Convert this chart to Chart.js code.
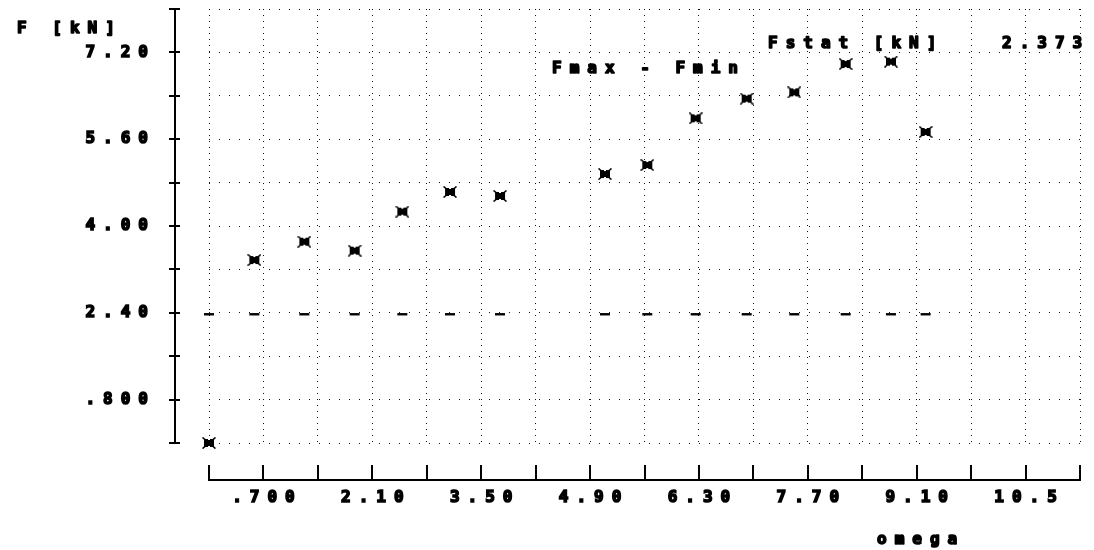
<!DOCTYPE html>
<html>
<head>
<meta charset="utf-8">
<script src="https://cdn.jsdelivr.net/npm/chart.js@4/dist/chart.umd.min.js"></script>
<style>
  html, body { margin: 0; padding: 0; background: #fff; }
  #wrap { position: relative; width: 1094px; height: 550px; }
</style>
</head>
<body>
<div id="wrap"><canvas id="c"></canvas></div>
<script>
// Peak-to-peak force (Fmax - Fmin) against excitation frequency omega
const omega  = [0, 0.583, 1.226, 1.873, 2.486, 3.099, 3.742, 5.092, 5.636, 6.258, 6.914, 7.526, 8.187, 8.769, 9.215];
const fRange = [0, 3.373, 3.710, 3.545, 4.264, 4.627, 4.553, 4.958, 5.124, 5.985, 6.347, 6.464, 6.986, 7.029, 5.733];
// Static force level, marked at every measured frequency
const fStat = 2.373;

const xTickLabels = ['', '.700', '', '2.10', '', '3.50', '', '4.90', '', '6.30', '', '7.70', '', '9.10', '', '10.5', ''];
const yTickLabels = ['', '.800', '', '2.40', '', '4.00', '', '5.60', '', '7.20', ''];
const xStep = 0.7;
const yStep = 0.8;

const FONT_FAMILY = '"DejaVu Sans Mono", "Liberation Mono", monospace';
const FONT_SIZE = 16;
const SPACING = 8;
const INK = 1.6; // extra stroke to thicken the plotter lettering

// Filled "crab" marker used for the measured points
function makeMarker() {
  const c = document.createElement('canvas');
  c.width = 14; c.height = 12;
  const g = c.getContext('2d');
  g.fillStyle = '#000';
  g.fillRect(2, 2, 10, 8);
  g.strokeStyle = '#000';
  g.lineWidth = 1.6;
  g.beginPath();
  g.moveTo(0.5, 0.5); g.lineTo(13.5, 11.5);
  g.moveTo(13.5, 0.5); g.lineTo(0.5, 11.5);
  g.stroke();
  g.clearRect(6, 1, 2, 2);
  g.clearRect(6, 9, 2, 2);
  return c;
}

// Detached axes, wide-spaced plotter lettering and annotations
const plotterDecor = {
  id: 'plotterDecor',
  beforeDraw(chart) {
    chart.ctx.letterSpacing = SPACING + 'px';
  },
  afterDraw(chart) {
    const { ctx, chartArea: a, scales: { x, y } } = chart;
    ctx.save();
    ctx.strokeStyle = '#000';
    ctx.lineWidth = 2;
    ctx.beginPath();
    // vertical axis
    const ax = a.left - 34;
    ctx.moveTo(ax, y.getPixelForValue(y.max) - 1);
    ctx.lineTo(ax, y.getPixelForValue(y.min) + 1);
    y.ticks.forEach(t => {
      const py = Math.round(y.getPixelForValue(t.value));
      ctx.moveTo(ax - 6, py);
      ctx.lineTo(ax + 5, py);
    });
    // horizontal axis
    const ay = a.bottom + 37;
    ctx.moveTo(x.getPixelForValue(x.min) - 1, ay);
    ctx.lineTo(x.getPixelForValue(x.max) + 1, ay);
    x.ticks.forEach(t => {
      const px = Math.round(x.getPixelForValue(t.value));
      ctx.moveTo(px, ay);
      ctx.lineTo(px, ay - 15);
    });
    ctx.stroke();

    ctx.fillStyle = '#000';
    ctx.strokeStyle = '#000';
    ctx.lineWidth = INK;
    ctx.lineJoin = 'round';
    ctx.font = 'bold ' + FONT_SIZE + 'px ' + FONT_FAMILY;
    ctx.letterSpacing = SPACING + 'px';
    ctx.textAlign = 'left';
    ctx.textBaseline = 'alphabetic';
    const put = (s, px, py) => { ctx.strokeText(s, px, py); ctx.fillText(s, px, py); };
    put('F [kN]', 17, 33);
    put('Fstat [kN]', 768, 48);
    put(fStat.toFixed(3), 1002, 48);
    put('Fmax - Fmin', 552, 73);
    put('omega', 877, 544);
    ctx.restore();
    ctx.letterSpacing = '0px';
  }
};

const tickFont = { family: FONT_FAMILY, size: FONT_SIZE, weight: 'bold' };

new Chart(document.getElementById('c'), {
  type: 'scatter',
  data: {
    datasets: [
      {
        label: 'Fmax - Fmin',
        data: omega.map((w, i) => ({ x: w, y: fRange[i] })),
        pointStyle: makeMarker(),
        pointRadius: 6,
        showLine: false,
        clip: false
      },
      {
        label: 'Fstat [kN]',
        data: omega.map(w => ({ x: w, y: fStat })),
        pointStyle: 'line',
        pointRadius: 5,
        pointBorderWidth: 2.4,
        pointBorderColor: '#000',
        borderColor: '#000',
        showLine: false,
        clip: false
      }
    ]
  },
  plugins: [plotterDecor],
  options: {
    responsive: true,
    maintainAspectRatio: false,
    animation: false,
    events: [],
    layout: { padding: { left: 0, right: 14, top: 9, bottom: 0 } },
    plugins: { legend: { display: false }, tooltip: { enabled: false } },
    scales: {
      x: {
        type: 'linear',
        min: 0,
        max: xStep * (xTickLabels.length - 1),
        afterBuildTicks: s => { s.ticks = xTickLabels.map((_, i) => ({ value: +(i * xStep).toFixed(3) })); },
        afterFit: s => { s.height = 107; s.paddingLeft = 0; s.paddingRight = 0; },
        ticks: {
          autoSkip: false, maxRotation: 0, minRotation: 0,
          padding: 45, labelOffset: SPACING / 2,
          color: '#000', font: tickFont,
          textStrokeColor: '#000', textStrokeWidth: INK,
          callback: (v, i) => xTickLabels[i]
        },
        grid: { color: '#111', lineWidth: 1, drawTicks: false },
        border: { display: false, dash: [1, 5] }
      },
      y: {
        type: 'linear',
        min: 0,
        max: yStep * (yTickLabels.length - 1),
        afterBuildTicks: s => { s.ticks = yTickLabels.map((_, i) => ({ value: +(i * yStep).toFixed(3) })); },
        afterFit: s => { s.width = 209; s.paddingTop = 0; s.paddingBottom = 0; },
        ticks: {
          autoSkip: false,
          padding: 53,
          color: '#000', font: tickFont,
          textStrokeColor: '#000', textStrokeWidth: INK,
          callback: (v, i) => yTickLabels[i]
        },
        grid: { color: '#111', lineWidth: 1, drawTicks: false },
        border: { display: false, dash: [1, 9] }
      }
    }
  }
});
</script>
</body>
</html>
